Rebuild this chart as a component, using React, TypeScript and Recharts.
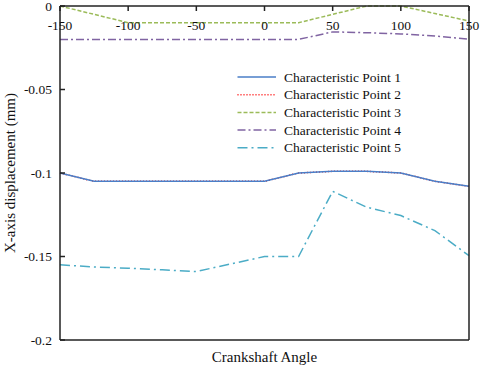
import React from "react";
import {
  Legend,
  Line,
  LineChart,
  XAxis,
  YAxis,
} from "recharts";

const angles = [-150, -125, -100, -75, -50, -25, 0, 25, 50, 75, 100, 125, 150];

const point1 = [-0.1, -0.105, -0.105, -0.105, -0.105, -0.105, -0.105, -0.1, -0.099, -0.099, -0.1, -0.105, -0.108];
const point2 = [-0.1, -0.105, -0.105, -0.105, -0.105, -0.105, -0.105, -0.1, -0.099, -0.099, -0.1, -0.105, -0.108];
const point3 = [0, -0.005, -0.01, -0.01, -0.01, -0.01, -0.01, -0.01, -0.005, 0, 0, -0.0045, -0.009];
const point4 = [-0.02, -0.02, -0.02, -0.02, -0.02, -0.02, -0.02, -0.02, -0.0155, -0.016, -0.0167, -0.018, -0.0198];
const point5 = [-0.155, -0.1563, -0.157, -0.158, -0.159, -0.1545, -0.15, -0.15, -0.111, -0.1205, -0.1255, -0.1345, -0.1495];

const xTicks = [-150, -100, -50, 0, 50, 100, 150];
const yTicks = [0, -0.05, -0.1, -0.15, -0.2];

const series = [
  { key: "p2", name: "Characteristic Point 2", color: "#ff0000", dash: "1 2" },
  { key: "p1", name: "Characteristic Point 1", color: "#4a7ec7", dash: undefined },
  { key: "p3", name: "Characteristic Point 3", color: "#9bbb59", dash: "4 2" },
  { key: "p4", name: "Characteristic Point 4", color: "#8064a2", dash: "8 3 2 3" },
  { key: "p5", name: "Characteristic Point 5", color: "#4bacc6", dash: "10 4 2 4" },
];

const legendOrder = ["p1", "p2", "p3", "p4", "p5"];

const data = angles.map((a, i) => ({
  angle: a,
  p1: point1[i],
  p2: point2[i],
  p3: point3[i],
  p4: point4[i],
  p5: point5[i],
}));

const FONT = "'Liberation Serif', 'Times New Roman', serif";
const AXIS = "#222";

const YTick = (props: any) => {
  const { x, y, payload } = props;
  const ax = x + 8;
  return (
    <g>
      <line x1={ax} x2={ax + 5} y1={y} y2={y} stroke={AXIS} strokeWidth={1.5} />
      <text x={x} y={y} textAnchor="end" dominantBaseline="central" fontSize={13.5} fontFamily={FONT} fill="#111">
        {payload.value}
      </text>
    </g>
  );
};

const YTitle = (props: any) => {
  const vb = props.viewBox;
  const cx = vb.x + 10;
  const cy = vb.y + vb.height / 2;
  return (
    <text x={cx} y={cy} transform={`rotate(-90 ${cx} ${cy})`} textAnchor="middle" dominantBaseline="central" fontSize={15} fontFamily={FONT} fill="#111">
      X-axis displacement (mm)
    </text>
  );
};

const XTitle = (props: any) => {
  const vb = props.viewBox;
  return (
    <text x={vb.x + vb.width / 2} y={vb.y + vb.height + 17} textAnchor="middle" dominantBaseline="central" fontSize={15} fontFamily={FONT} fill="#111">
      Crankshaft Angle
    </text>
  );
};

const LegendBox = () => (
  <svg width={190} height={92} style={{ display: "block" }}>
    {legendOrder.map((k, i) => {
      const s = series.find((d) => d.key === k)!;
      const y = 9 + i * 17.7;
      return (
        <g key={k}>
          <line x1={0.5} x2={39} y1={y} y2={y} stroke={s.color} strokeWidth={1.5} strokeDasharray={s.dash} />
          <text x={47} y={y} dominantBaseline="central" fontSize={13.5} fontFamily={FONT} fill="#111">
            {s.name}
          </text>
        </g>
      );
    })}
  </svg>
);

export default function App() {
  return (
    <div style={{ position: "absolute", left: 0, top: 0, background: "#fff" }}>
      <LineChart width={480} height={369} data={data} margin={{ top: 6, right: 11, bottom: 29, left: 0 }}>
        <XAxis
          dataKey="angle"
          type="number"
          domain={[-150, 150]}
          ticks={xTicks}
          orientation="top"
          mirror
          height={20}
          tickSize={5}
          tickMargin={9}
          stroke={AXIS}
          strokeWidth={1.5}
          tick={{ fontSize: 13.5, fontFamily: FONT, fill: "#111" }}
          interval={0}
        />
        <XAxis
          xAxisId="b"
          dataKey="angle"
          type="number"
          domain={[-150, 150]}
          orientation="bottom"
          mirror
          height={20}
          tick={false}
          tickLine={false}
          stroke={AXIS}
          strokeWidth={1.5}
          label={<XTitle />}
        />
        <YAxis
          type="number"
          domain={[-0.2, 0]}
          ticks={yTicks}
          width={60}
          tickSize={0}
          tickMargin={8}
          tickLine={false}
          stroke={AXIS}
          strokeWidth={1.5}
          tick={<YTick />}
          interval={0}
          label={<YTitle />}
        />
        <YAxis
          yAxisId="r"
          type="number"
          domain={[-0.2, 0]}
          orientation="right"
          mirror
          width={20}
          tick={false}
          tickLine={false}
          stroke={AXIS}
          strokeWidth={1.5}
        />
        <Legend
          layout="vertical"
          align="center"
          verticalAlign="middle"
          content={<LegendBox />}
          wrapperStyle={{ position: "absolute", left: 237, top: 68, width: 190, height: 92 }}
        />
        {series.map((s) => (
          <Line
            key={s.key}
            type="linear"
            dataKey={s.key}
            name={s.name}
            stroke={s.color}
            strokeWidth={1.5}
            strokeDasharray={s.dash}
            dot={false}
            activeDot={false}
            isAnimationActive={false}
          />
        ))}
      </LineChart>
    </div>
  );
}
